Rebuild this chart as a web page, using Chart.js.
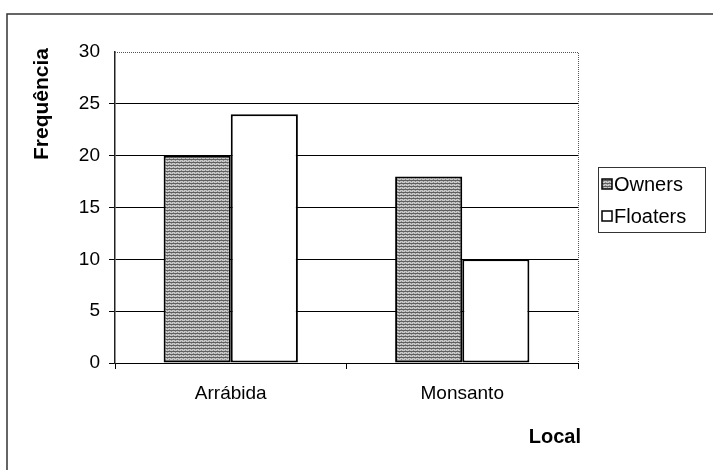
<!DOCTYPE html>
<html>
<head>
<meta charset="utf-8">
<script src="https://cdn.jsdelivr.net/npm/chart.js@4/dist/chart.umd.min.js"></script>
<style>
html,body{margin:0;padding:0;background:#fff;}
#wrap{position:relative;width:713px;height:470px;}
</style>
</head>
<body>
<div id="wrap"><canvas id="c" width="713" height="470"></canvas></div>
<script>
const categories = ["Arrábida", "Monsanto"];
const ownersValues = [20, 18];
const floatersValues = [24, 10];
const seriesNames = ["Owners", "Floaters"];
const yTicks = [0, 5, 10, 15, 20, 25, 30];
const yTitle = "Frequência";
const xTitle = "Local";

const FONT = "'Liberation Sans', Arial, sans-serif";

function makePattern() {
  const p = document.createElement('canvas');
  p.width = 4; p.height = 3;
  const g = p.getContext('2d');
  g.fillStyle = '#c8c8c8';
  g.fillRect(0, 0, 4, 3);
  g.fillStyle = '#606060';
  g.fillRect(0, 0, 4, 1);
  g.fillStyle = '#8a8a8a';
  g.fillRect(1, 2, 1, 1);
  g.fillRect(3, 1, 1, 1);
  return document.getElementById('c').getContext('2d').createPattern(p, 'repeat');
}
const ownersFill = makePattern();

const decor = {
  id: 'decor',
  beforeDraw(chart) {
    const ctx = chart.ctx;
    ctx.save();
    ctx.fillStyle = '#fff';
    ctx.fillRect(0, 0, chart.width, chart.height);
    ctx.strokeStyle = '#333';
    ctx.lineWidth = 1.5;
    ctx.beginPath();
    ctx.moveTo(7, 470);
    ctx.lineTo(7, 14);
    ctx.lineTo(713, 14);
    ctx.stroke();
    ctx.restore();
  },
  afterDraw(chart) {
    const ctx = chart.ctx;
    const a = chart.chartArea;
    ctx.save();
    ctx.strokeStyle = '#555';
    ctx.lineWidth = 1;
    ctx.setLineDash([1, 1]);
    ctx.beginPath();
    ctx.moveTo(a.left, a.top + 0.5);
    ctx.lineTo(a.right + 0.5, a.top + 0.5);
    ctx.lineTo(a.right + 0.5, a.bottom);
    ctx.stroke();
    ctx.setLineDash([]);
    ctx.fillStyle = '#000';
    ctx.font = 'bold 20px ' + FONT;
    ctx.textAlign = 'right';
    ctx.textBaseline = 'middle';
    ctx.fillText(xTitle, a.right + 3, 437);
    ctx.save();
    ctx.translate(42, 48);
    ctx.rotate(-Math.PI / 2);
    ctx.font = 'bold 21px ' + FONT;
    ctx.textAlign = 'right';
    ctx.fillText(yTitle, 0, 0);
    ctx.restore();
    const lx = 598, ly = 167, lw = 107, lh = 65;
    ctx.strokeStyle = '#333';
    ctx.lineWidth = 1;
    ctx.strokeRect(lx + 0.5, ly + 0.5, lw, lh);
    const items = [
      { name: seriesNames[0], fill: ownersFill, y: 184 },
      { name: seriesNames[1], fill: '#fff', y: 216 }
    ];
    ctx.font = '20px ' + FONT;
    ctx.textAlign = 'left';
    items.forEach(it => {
      ctx.fillStyle = it.fill;
      ctx.fillRect(602, it.y - 5, 10, 10);
      ctx.strokeStyle = '#000';
      ctx.lineWidth = 1.5;
      ctx.strokeRect(602, it.y - 5, 10, 10);
      ctx.fillStyle = '#000';
      ctx.fillText(it.name, 614, it.y + 1);
    });
    ctx.restore();
  }
};

new Chart(document.getElementById('c'), {
  type: 'bar',
  data: {
    labels: categories,
    datasets: [
      { label: seriesNames[0], data: ownersValues, backgroundColor: ownersFill, borderColor: '#000', borderWidth: 2, borderSkipped: false },
      { label: seriesNames[1], data: floatersValues, backgroundColor: '#fff', borderColor: '#000', borderWidth: 2, borderSkipped: false }
    ]
  },
  options: {
    responsive: false,
    animation: false,
    layout: { padding: { left: 20, right: 135, top: 52, bottom: 0 } },
    plugins: { legend: { display: false }, tooltip: { enabled: false } },
    datasets: { bar: { categoryPercentage: 0.58, barPercentage: 1 } },
    scales: {
      x: {
        grid: { offset: true, drawOnChartArea: false, tickLength: 6, color: '#000' },
        border: { color: '#000', width: 1 },
        ticks: { color: '#000', font: { family: FONT, size: 19 }, padding: 13 },
        afterFit(s) { s.height = 107; }
      },
      y: {
        min: 0, max: 30,
        afterBuildTicks(s) { s.ticks = yTicks.map(v => ({ value: v })); },
        grid: {
          tickLength: 6,
          color: ctx => (ctx.tick && ctx.tick.value === 30) ? 'rgba(0,0,0,0)' : '#000'
        },
        border: { color: '#222', width: 1.5 },
        ticks: { color: '#000', font: { family: FONT, size: 19 }, padding: 9 },
        afterFit(s) { s.width = 95; }
      }
    }
  },
  plugins: [decor]
});
</script>
</body>
</html>
